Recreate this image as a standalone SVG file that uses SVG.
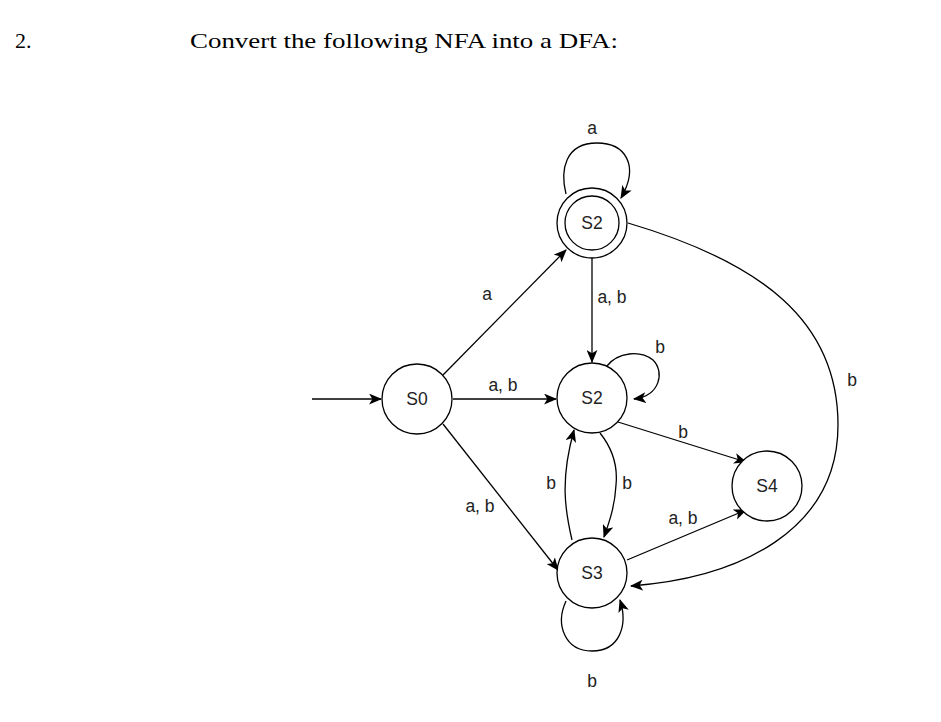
<svg xmlns="http://www.w3.org/2000/svg" width="941" height="722" viewBox="0 0 941 722">
<style>
.st{fill:#fff;stroke:#000;stroke-width:1.3}
.e{fill:none;stroke:#000;stroke-width:1.3;marker-end:url(#ah)}
.lb{font-family:"Liberation Sans",Arial,sans-serif;font-size:17.5px;fill:#222;text-anchor:middle}
.nl{font-family:"Liberation Sans",Arial,sans-serif;font-size:17.5px;fill:#222;text-anchor:middle;dominant-baseline:central}
.tt{font-family:"Liberation Serif","Times New Roman",serif;font-size:22px;fill:#000}
</style>
<defs>
<marker id="ah" viewBox="0 0 12 10" refX="11" refY="5" markerWidth="13" markerHeight="11" markerUnits="userSpaceOnUse" orient="auto">
<path d="M0,0 L12,5 L0,10 L3,5 z" fill="#000"/>
</marker>
</defs>
<text class="tt" x="15" y="48">2.</text>
<text class="tt" x="190" y="48" textLength="428" lengthAdjust="spacingAndGlyphs">Convert the following NFA into a DFA:</text>
<g id="connectors">
<path class="e" d="M312,399 L381,399"/>
<path class="e" d="M443,375 L566,250"/>
<path class="e" d="M453,399 L556,399"/>
<path class="e" d="M443,424 L558,570"/>
<path class="e" d="M592,258 L592,362"/>
<path class="e" d="M566,194 C560,170 565,143 597,143 C625,143 640,165 621,198"/>
<path class="e" d="M607,366 C618,352 640,350 653,360 C665,372 660,396 634,399"/>
<path class="e" d="M618,422 L746,462"/>
<path class="e" d="M600,433 C612,448 618,465 616,485 C615,505 610,520 604,537"/>
<path class="e" d="M572,540 C565,510 560,480 574,430"/>
<path class="e" d="M627,560 L746,510"/>
<path class="e" d="M628,223 C760,262 838,320 838,425 C838,530 740,578 631,586"/>
<path class="e" d="M566,601 C555,625 565,651 592,651 C620,651 628,625 620,600"/>
</g>
<g id="labels">
<text class="lb" x="592" y="134">a</text>
<text class="lb" x="487" y="300">a</text>
<text class="lb" x="612" y="303">a, b</text>
<text class="lb" x="503" y="391">a, b</text>
<text class="lb" x="660" y="353">b</text>
<text class="lb" x="683" y="438">b</text>
<text class="lb" x="551" y="489">b</text>
<text class="lb" x="627" y="489">b</text>
<text class="lb" x="480" y="512">a, b</text>
<text class="lb" x="683" y="524">a, b</text>
<text class="lb" x="852" y="386">b</text>
<text class="lb" x="592" y="687">b</text>
</g>
<g id="S0"><circle class="st" cx="417" cy="399" r="35"/><text class="nl" x="417" y="399">S0</text></g>
<g id="S2top"><circle class="st" cx="592" cy="223" r="35"/><circle class="st" cx="592" cy="223" r="27"/><text class="nl" x="592" y="223">S2</text></g>
<g id="S2mid"><circle class="st" cx="592" cy="398" r="35"/><text class="nl" x="592" y="398">S2</text></g>
<g id="S3"><circle class="st" cx="592" cy="573" r="35"/><text class="nl" x="592" y="573">S3</text></g>
<g id="S4"><circle class="st" cx="767" cy="486" r="35"/><text class="nl" x="767" y="486">S4</text></g>
</svg>
